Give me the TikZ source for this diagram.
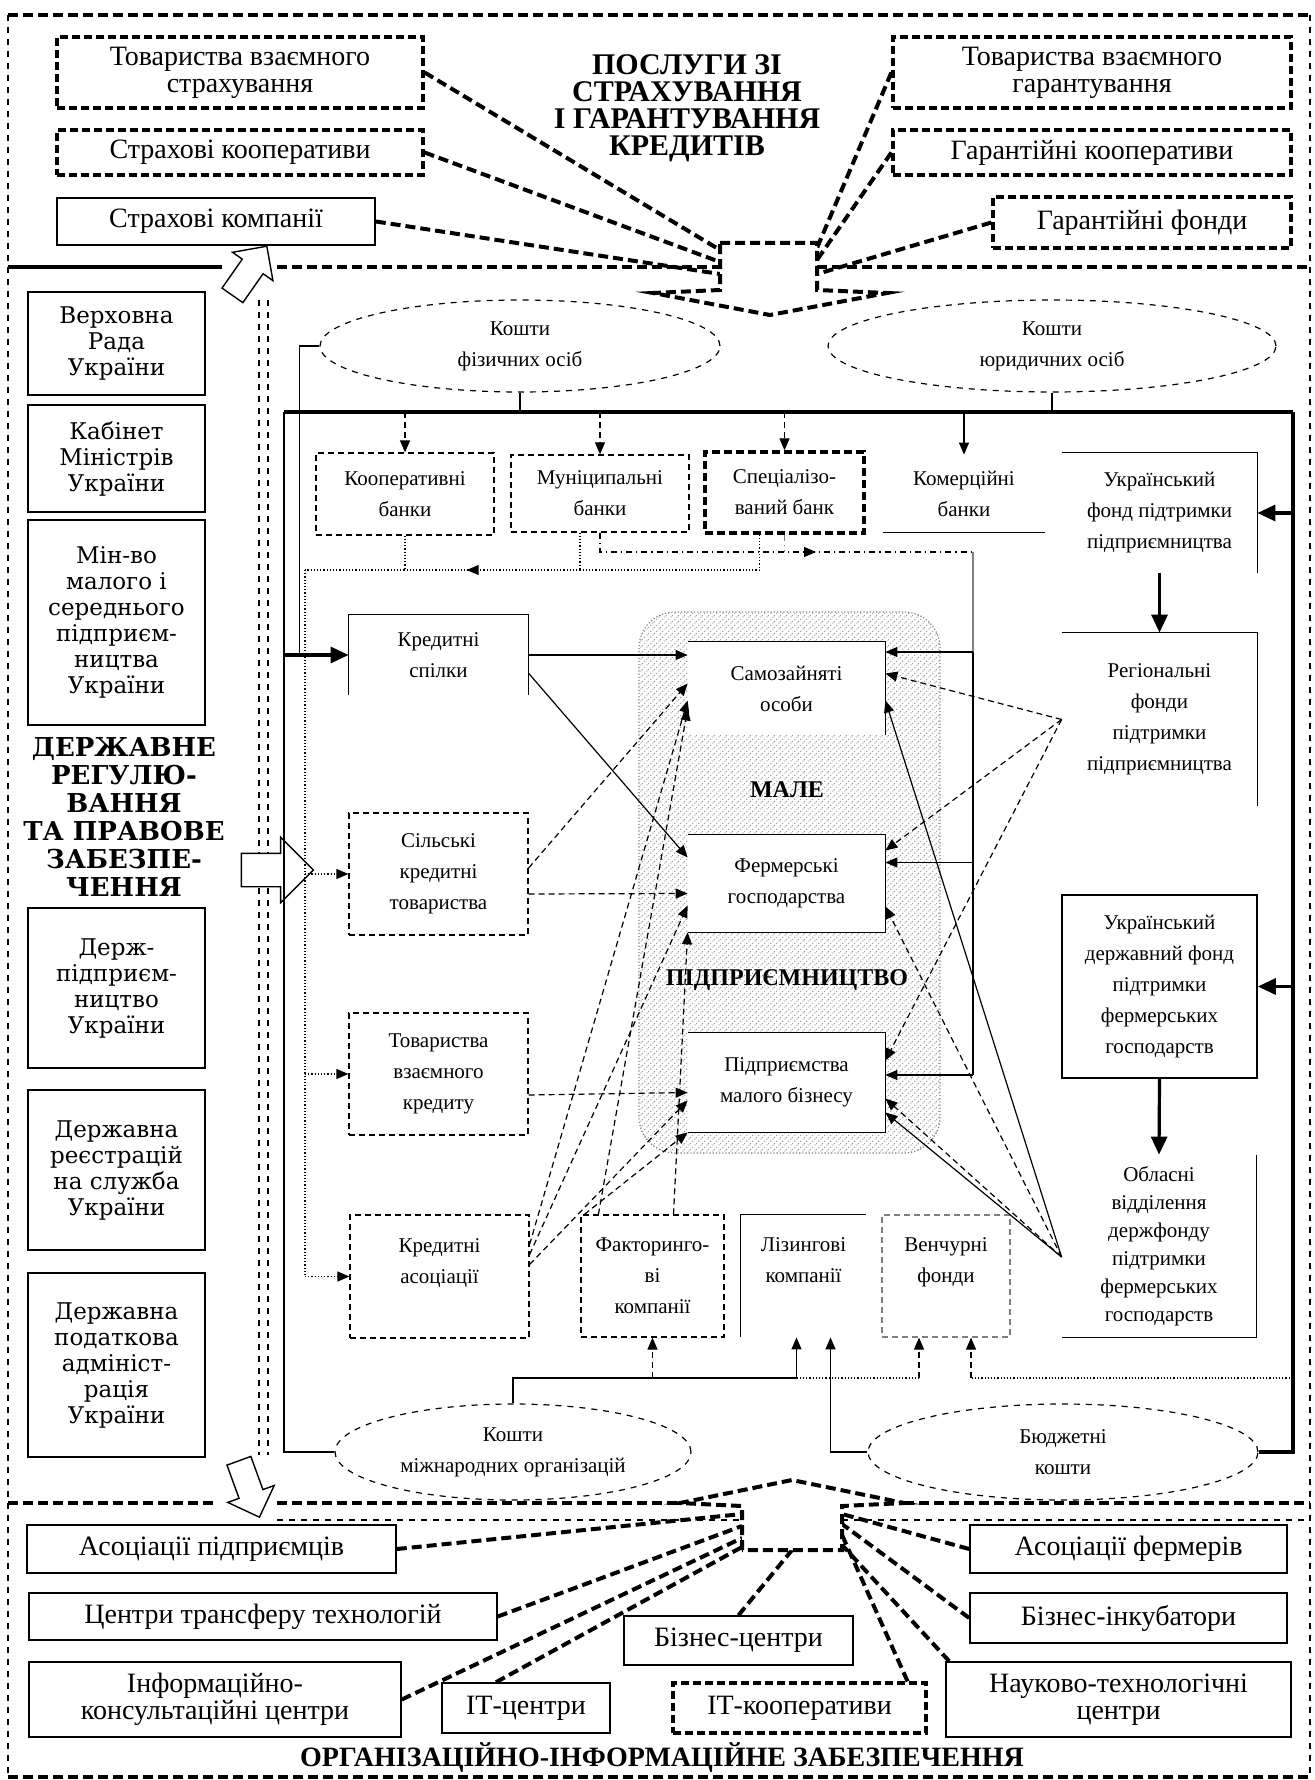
\documentclass[tikz,border=0pt]{standalone}
\usepackage{fontspec}
\setmainfont{Liberation Serif}
\newfontfamily\wideserif{DejaVu Serif}
\usetikzlibrary{arrows.meta,calc,patterns,shapes.geometric,shapes.arrows,decorations.markings}

\newcommand\topfnt{\fontsize{14}{13.5}\selectfont}
\newcommand\leftfnt{\wideserif\fontsize{11.5}{13}\selectfont}
\newcommand\leftheadfnt{\wideserif\bfseries\fontsize{13}{14}\selectfont}
\newcommand\midfnt{\fontsize{10.5}{15.5}\selectfont}
\newcommand\headfnt{\bfseries\fontsize{15}{13.5}\selectfont}
\newcommand\centrefnt{\bfseries\fontsize{12}{12}\selectfont}

\tikzset{
  >={Triangle[length=6pt,width=5pt]},
  area/.style args={#1/#2/#3/#4}{at={({(#1+#3)/2},{(#2+#4)/2})}, minimum width={(#3-#1)*0.5pt}, minimum height={(#4-#2)*0.5pt}},
  box/.style={draw, line width=0.8pt, fill=white, inner sep=0pt, align=center},
  dbox/.style={box, line width=0.6pt, densely dashed},
  tbox/.style={box, line width=1.6pt, dash pattern=on 4pt off 2pt},
  gbox/.style={dbox, draw=gray},
  plain/.style={inner sep=0pt, align=center},
  wplain/.style={plain, fill=white},
  money/.style={ellipse, draw, dashed, line width=0.6pt, fill=white, inner sep=0pt, align=center, font=\midfnt},
  link/.style={line width=0.6pt},
  dline/.style={link, densely dashed},
  dotline/.style={link, densely dotted},
  ddline/.style={link, dash dot},
  bus/.style={line width=1.6pt},
  fat/.style={line width=1.6pt, -{Triangle[length=9pt,width=8pt]}},
  hubline/.style={line width=2pt, dash pattern=on 5pt off 2.5pt},
  blockarrow/.style={single arrow, draw, fill=white, line width=0.7pt, inner sep=6pt, single arrow head extend=6pt, minimum height=30pt},
  hatch/.style={pattern=north east lines, pattern color=gray!80, draw=gray, densely dotted, line width=0.6pt, rounded corners=18pt},
  midmark/.style={postaction={decorate}, decoration={markings, mark=at position #1 with {\arrow{>}}}}
}

\begin{document}
\begin{tikzpicture}[x=0.5pt, y=-0.5pt]
\useasboundingbox (0,0) rectangle (1314,1780);

% frames
\draw[hubline] (8,15) -- (1310,15);
\draw[hubline] (8,1777) -- (1310,1777);
\draw[dashed, line width=0.8pt] (8,15) -- (8,1777);
\draw[dashed, line width=0.8pt] (1310,15) -- (1310,1777);
\draw[line width=1.8pt] (8,267) -- (222,267);
\draw[hubline] (277,267) -- (720,267);
\draw[hubline] (817,267) -- (1310,267);
\draw[hubline] (8,1503) -- (214,1503);
\draw[hubline] (277,1503) -- (680,1503);
\draw[hubline] (904,1503) -- (1310,1503);
\draw[dashed, line width=0.6pt] (277,1520) -- (742,1520);
\draw[dashed, line width=0.6pt] (842,1520) -- (1310,1520);
\draw[dashed, line width=0.8pt] (259,300) -- (259,1455);
\draw[dashed, line width=0.8pt] (268,300) -- (268,1455);

% insurance and guarantees
\node[tbox, area=57/37/423/108, font=\topfnt] (tvstrah) {Товариства взаємного\\страхування};
\node[tbox, area=57/130/423/175, font=\topfnt] (strkoop) {Страхові кооперативи};
\node[box, area=57/198/375/245, font=\topfnt] (strkomp) {Страхові компанії};
\node[tbox, area=893/37/1291/108, font=\topfnt] (tvgar) {Товариства взаємного\\гарантування};
\node[tbox, area=893/130/1291/175, font=\topfnt] (garkoop) {Гарантійні кооперативи};
\node[tbox, area=993/197/1291/248, font=\topfnt] (garfond) {Гарантійні фонди};
\node[plain, font=\headfnt] (posluhy) at (687,108) {ПОСЛУГИ ЗІ\\СТРАХУВАННЯ\\І ГАРАНТУВАННЯ\\КРЕДИТІВ};

\coordinate (th1) at (720,250);
\coordinate (th2) at (720,262);
\coordinate (th3) at (720,274);
\coordinate (th4) at (817,248);
\coordinate (th5) at (817,260);
\coordinate (th6) at (817,274);
\draw[hubline] (tvstrah.east) -- (th1);
\draw[hubline] (strkoop.east) -- (th2);
\draw[hubline] (strkomp.east) -- (th3);
\draw[hubline] (tvgar.west) -- (th4);
\draw[hubline] (garkoop.west) -- (th5);
\draw[hubline] (garfond.west) -- (th6);
\draw[hubline, fill=white] (720,243) -- (817,243) -- (817,290) -- (887,293) -- (770,315) -- (653,293) -- (720,290) -- cycle;

% state regulation
\node[box, area=28/292/205/395, font=\leftfnt] (vrada) {Верховна\\Рада\\України};
\node[box, area=28/405/205/512, font=\leftfnt] (kabmin) {Кабінет\\Міністрів\\України};
\node[box, area=28/520/205/725, font=\leftfnt] (minmsp) {Мін-во\\малого і\\середнього\\підприєм-\\ництва\\України};
\node[plain, font=\leftheadfnt] (derzhreg) at (124,817) {ДЕРЖАВНЕ\\РЕГУЛЮ-\\ВАННЯ\\ТА ПРАВОВЕ\\ЗАБЕЗПЕ-\\ЧЕННЯ};
\node[box, area=28/908/205/1068, font=\leftfnt] (derzhpid) {Держ-\\підприєм-\\ництво\\України};
\node[box, area=28/1090/205/1250, font=\leftfnt] (reestr) {Державна\\реєстрацій\\на служба\\України};
\node[box, area=28/1273/205/1457, font=\leftfnt] (podat) {Державна\\податкова\\адмініст-\\рація\\України};

\node[blockarrow, rotate=55] (upA) at (246,276) {};
\node[blockarrow, inner sep=8pt, single arrow head extend=8pt, minimum height=36pt] (rightA) at (269,870) {};
\node[blockarrow, rotate=-70] (downA) at (247,1483) {};

% money sources
\node[money, minimum width=200pt, minimum height=46pt] (fiz) at (520,346) {Кошти\\фізичних осіб};
\node[money, minimum width=224pt, minimum height=46pt] (jur) at (1052,346) {Кошти\\юридичних осіб};
\node[money, minimum width=178pt, minimum height=48pt] (mizh) at (513,1452) {Кошти\\міжнародних організацій};
\node[money, minimum width=195pt, minimum height=48pt] (budg) at (1063,1452) {Бюджетні\\кошти};

% banks and funds
\node[dbox, area=316/453/494/535, font=\midfnt] (koopb) {Кооперативні\\банки};
\node[dbox, area=511/455/689/532, font=\midfnt] (munb) {Муніципальні\\банки};
\node[tbox, area=705/452/864/533, font=\midfnt] (specb) {Спеціалізо-\\ваний банк};
\node[plain, area=883/455/1045/532, font=\midfnt] (komb) {Комерційні\\банки};
\node[plain, area=1062/453/1257/573, font=\midfnt] (ukrf) {Український\\фонд підтримки\\підприємництва};
\node[plain, area=1062/633/1257/806, font=\midfnt] (regf) {Регіональні\\фонди\\підтримки\\підприємництва};
\node[box, area=1062/895/1257/1078, font=\midfnt] (udf) {Український\\державний фонд\\підтримки\\фермерських\\господарств};
\node[plain, area=1062/1155/1256/1337, font=\midfnt\fontsize{10.5}{14}\selectfont] (oblv) {Обласні\\відділення\\держфонду\\підтримки\\фермерських\\господарств};
\draw[link] (komb.south west) -- (komb.south east);
\draw[link] (ukrf.north west) -- (ukrf.north east) -- (ukrf.south east);
\draw[link] (regf.north west) -- (regf.north east) -- (regf.south east);
\draw[link] (oblv.north east) -- (oblv.south east) -- (oblv.south west);

% credit institutions
\node[plain, area=349/615/528/695, font=\midfnt] (kspil) {Кредитні\\спілки};
\node[dbox, area=349/813/528/935, font=\midfnt] (silkt) {Сільські\\кредитні\\товариства};
\node[dbox, area=349/1013/528/1135, font=\midfnt] (tvkr) {Товариства\\взаємного\\кредиту};
\node[dbox, area=350/1215/529/1338, font=\midfnt] (kasoc) {Кредитні\\асоціації\\\mbox{}};
\node[dbox, area=581/1215/724/1337, font=\midfnt] (faktk) {Факторинго-\\ві\\компанії};
\node[plain, area=741/1215/866/1337, font=\midfnt] (lizk) {Лізингові\\компанії\\\mbox{}};
\node[gbox, area=882/1215/1010/1337, font=\midfnt] (venf) {Венчурні\\фонди\\\mbox{}};
\draw[link] (kspil.south west) -- (kspil.north west) -- (kspil.north east) -- (kspil.south east);
\draw[link] (lizk.south west) -- (lizk.north west) -- (lizk.north east);

% small business
\draw[hatch] (639,612) rectangle (940,1153);
\node[wplain, area=688/642/885/735, font=\midfnt] (samoz) {Самозайняті\\особи};
\node[plain, font=\centrefnt] (male) at (787,790) {МАЛЕ};
\node[wplain, area=688/835/885/932, font=\midfnt] (ferm) {Фермерські\\господарства};
\node[plain, font=\centrefnt] (pidpr) at (787,980) {ПІДПРИЄМНИЦТВО};
\node[wplain, area=688/1033/885/1132, font=\midfnt] (pmb) {Підприємства\\малого бізнесу};
\draw[link] (samoz.north west) -- (samoz.north east) -- (samoz.south east);
\draw[link] (ferm.north west) -- (ferm.north east) -- (ferm.south east) -- (ferm.south west);
\draw[link] (pmb.north west) -- (pmb.north east) -- (pmb.south east) -- (pmb.south west);

% main bus
\coordinate (busL) at (284,412);
\coordinate (busR) at (1293,412);
\draw[bus] (busL) -- (busR);
\draw[link] (fiz.south) -- (fiz.south |- busL);
\draw[link] (jur.south) -- (jur.south |- busL);
\draw[link] (busL) |- (mizh.west);
\draw[bus] (busR) |- (budg.east);
\draw[dline,->] (koopb.north |- busL) -- (koopb.north);
\draw[dline,->] (munb.north |- busL) -- (munb.north);
\draw[dline,->] (specb.north |- busL) -- (specb.north);
\draw[link,->] (komb.north |- busL) -- (komb.north);
\draw[fat] (ukrf.east -| busR) -- (ukrf.east);
\draw[fat] (udf.east -| busR) -- (udf.east);
\draw[fat] (ukrf.south) -- (regf.north);
\draw[fat] (udf.south) -- (oblv.north);
\coordinate (ksfeed) at ($(kspil.west)+(-49,0)$);
\draw[link] (fiz.west) -| (ksfeed);
\draw[fat] (kspil.west -| busL) -- (kspil.west);

% bank flows
\coordinate (dotcorner) at (305,570);
\coordinate (feedtop) at (973,552);
\coordinate (feedA) at (973,652);
\coordinate (feedC) at (973,1075);
\draw[dotline] (koopb.south) -- (koopb.south |- dotcorner);
\draw[dotline] ($(munb.south)+(-20,0)$) -- ($(munb.south)+(-20,38)$);
\draw[dotline, midmark=0.67] ($(specb.south)+(-25,0)$) |- (dotcorner);
\draw[dotline] (dotcorner) -- (dotcorner |- kasoc.west);
\draw[dotline,->] (silkt.west -| dotcorner) -- (silkt.west);
\draw[dotline,->] (tvkr.west -| dotcorner) -- (tvkr.west);
\draw[dotline,->] (kasoc.west -| dotcorner) -- (kasoc.west);
\draw[ddline, midmark=0.6] (munb.south) |- (feedtop);
\draw[ddline, gray] (specb.south) -- (specb.south |- feedtop);
\draw[link, gray] (feedtop) -- (feedA);
\draw[link] (feedA) -- (feedC);
\draw[link,->] (feedA) -- (samoz.east |- feedA);
\draw[link,->] ($(ferm.east)+(88,-21)$) -- ($(ferm.east)+(0,-21)$);
\draw[link,->] (feedC) -- (pmb.east |- feedC);

% flows to small business
\draw[link,->] (kspil.east) -- (samoz.west |- kspil.east);
\draw[link,->] ($(kspil.east)+(0,18)$) -- ($(ferm.west)+(0,-26)$);
\draw[dline,->] ($(silkt.east)+(0,-6)$) -- ($(samoz.west)+(0,-5)$);
\draw[dline,->] ($(silkt.east)+(0,20)$) -- ($(ferm.west)+(0,10)$);
\draw[dline,->] ($(tvkr.east)+(0,21)$) -- ($(pmb.west)+(0,10)$);
\draw[dline,->] ($(kasoc.east)+(0,-32)$) -- ($(samoz.west)+(0,12)$);
\draw[dline,->] ($(kasoc.east)+(0,-22)$) -- ($(ferm.west)+(0,22)$);
\draw[dline,->] ($(kasoc.east)+(0,-12)$) -- ($(pmb.west)+(0,18)$);
\draw[dline,->] ($(faktk.north west)+(18,0)$) -- ($(samoz.west)+(0,20)$);
\draw[dline,->] ($(faktk.north west)+(4,0)$) -- (pmb.south west);
\draw[dline,->] ($(faktk.north)+(21,0)$) -- (ferm.south west);
\draw[dline,->] (regf.west) -- ($(samoz.east)+(0,-15)$);
\draw[dline,->] (regf.west) -- ($(ferm.east)+(0,-33)$);
\draw[dline,->] (regf.west) -- ($(pmb.east)+(0,-22)$);
\coordinate (ovin) at ($(oblv.west)+(0,11)$);
\draw[link,->] (ovin) -- ($(samoz.east)+(0,12)$);
\draw[dline,->] (ovin) -- ($(ferm.east)+(0,23)$);
\draw[dline,->] (ovin) -- ($(pmb.east)+(0,16)$);
\draw[link,->] (ovin) -- ($(pmb.east)+(0,30)$);

% lower flows
\coordinate (y1378) at (0,1378);
\coordinate (lizA) at ($(lizk.south)+(-7,0)$);
\coordinate (lizB) at ($(lizk.south)+(27,0)$);
\coordinate (venA) at ($(venf.south)+(-27,0)$);
\coordinate (venB) at ($(venf.south)+(25,0)$);
\draw[link,->] (mizh.north) |- (lizA |- y1378) -- (lizA);
\draw[dline,->] (faktk.south |- y1378) -- (faktk.south);
\draw[dotline] (lizA |- y1378) -- (venA |- y1378);
\draw[dline,->] (venA |- y1378) -- (venA);
\draw[link,->] (budg.west) -| (lizB);
\draw[dotline] (busR |- y1378) -- (venB |- y1378);
\draw[dline,->] (venB |- y1378) -- (venB);

% organisational support
\node[box, area=27/1525/396/1573, font=\topfnt] (aspid) {Асоціації підприємців};
\node[box, area=29/1593/497/1640, font=\topfnt] (ctt) {Центри трансферу технологій};
\node[box, area=29/1662/401/1737, font=\topfnt] (ikc) {Інформаційно-\\консультаційні центри};
\node[box, area=442/1683/610/1733, font=\topfnt] (itc) {ІТ-центри};
\node[box, area=624/1616/853/1665, font=\topfnt] (bizc) {Бізнес-центри};
\node[tbox, area=673/1683/926/1733, font=\topfnt] (itk) {ІТ-кооперативи};
\node[box, area=970/1525/1287/1573, font=\topfnt] (asferm) {Асоціації фермерів};
\node[box, area=970/1593/1287/1643, font=\topfnt] (binc) {Бізнес-інкубатори};
\node[box, area=946/1662/1291/1737, font=\topfnt] (ntc) {Науково-технологічні\\центри};
\node[plain, font=\bfseries\fontsize{14}{14}\selectfont] (orgz) at (662,1758) {ОРГАНІЗАЦІЙНО-ІНФОРМАЦІЙНЕ ЗАБЕЗПЕЧЕННЯ};

\coordinate (bh1) at (742,1514);
\coordinate (bh2) at (742,1526);
\coordinate (bh3) at (742,1538);
\coordinate (bh4) at (742,1547);
\coordinate (bh5) at (792,1550);
\coordinate (bh6) at (842,1514);
\coordinate (bh7) at (842,1524);
\coordinate (bh8) at (842,1535);
\coordinate (bh9) at (842,1545);
\draw[hubline] (aspid.east) -- (bh1);
\draw[hubline] (ctt.east) -- (bh2);
\draw[hubline] (ikc.east) -- (bh3);
\draw[hubline] ($(itc.north)+(-30,0)$) -- (bh4);
\draw[hubline] (bizc.north) -- (bh5);
\draw[hubline] (asferm.west) -- (bh6);
\draw[hubline] (binc.west) -- (bh7);
\draw[hubline] ($(itk.north east)+(-20,0)$) -- (bh8);
\draw[hubline] ($(ntc.north west)+(4,0)$) -- (bh9);
\draw[hubline, fill=white] (742,1550) -- (742,1506) -- (680,1503) -- (792,1480) -- (904,1503) -- (842,1506) -- (842,1550) -- cycle;
\end{tikzpicture}
\end{document}
